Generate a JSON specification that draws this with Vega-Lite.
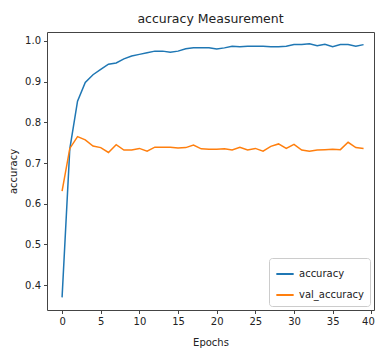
{
  "$schema": "https://vega.github.io/schema/vega-lite/v6.json",
  "width": 327,
  "height": 278,
  "autosize": {"type": "none"},
  "padding": {"left": 47, "top": 32, "right": 1, "bottom": 39},
  "background": "white",
  "title": {"text": "accuracy Measurement", "font": "DejaVu Sans", "fontSize": 12.5, "fontWeight": "normal", "color": "#222", "offset": 7, "anchor": "middle"},
  "config": {
    "view": {"stroke": "#444", "strokeWidth": 1},
    "axis": {"grid": false, "domain": false, "tickColor": "#444", "tickSize": 3.5, "labelFont": "DejaVu Sans", "labelFontSize": 10, "labelColor": "#222", "titleFont": "DejaVu Sans", "titleFontSize": 10, "titleFontWeight": "normal", "titleColor": "#222", "labelPadding": 3}
  },
  "data": {"values": [
    {"epoch": 0, "series": "accuracy", "value": 0.370},
    {"epoch": 1, "series": "accuracy", "value": 0.735},
    {"epoch": 2, "series": "accuracy", "value": 0.852},
    {"epoch": 3, "series": "accuracy", "value": 0.898},
    {"epoch": 4, "series": "accuracy", "value": 0.917},
    {"epoch": 5, "series": "accuracy", "value": 0.930},
    {"epoch": 6, "series": "accuracy", "value": 0.943},
    {"epoch": 7, "series": "accuracy", "value": 0.946},
    {"epoch": 8, "series": "accuracy", "value": 0.956},
    {"epoch": 9, "series": "accuracy", "value": 0.963},
    {"epoch": 10, "series": "accuracy", "value": 0.967},
    {"epoch": 11, "series": "accuracy", "value": 0.971},
    {"epoch": 12, "series": "accuracy", "value": 0.975},
    {"epoch": 13, "series": "accuracy", "value": 0.975},
    {"epoch": 14, "series": "accuracy", "value": 0.972},
    {"epoch": 15, "series": "accuracy", "value": 0.975},
    {"epoch": 16, "series": "accuracy", "value": 0.981},
    {"epoch": 17, "series": "accuracy", "value": 0.983},
    {"epoch": 18, "series": "accuracy", "value": 0.983},
    {"epoch": 19, "series": "accuracy", "value": 0.983},
    {"epoch": 20, "series": "accuracy", "value": 0.980},
    {"epoch": 21, "series": "accuracy", "value": 0.983},
    {"epoch": 22, "series": "accuracy", "value": 0.987},
    {"epoch": 23, "series": "accuracy", "value": 0.986},
    {"epoch": 24, "series": "accuracy", "value": 0.987},
    {"epoch": 25, "series": "accuracy", "value": 0.987},
    {"epoch": 26, "series": "accuracy", "value": 0.987},
    {"epoch": 27, "series": "accuracy", "value": 0.986},
    {"epoch": 28, "series": "accuracy", "value": 0.986},
    {"epoch": 29, "series": "accuracy", "value": 0.987},
    {"epoch": 30, "series": "accuracy", "value": 0.991},
    {"epoch": 31, "series": "accuracy", "value": 0.991},
    {"epoch": 32, "series": "accuracy", "value": 0.993},
    {"epoch": 33, "series": "accuracy", "value": 0.988},
    {"epoch": 34, "series": "accuracy", "value": 0.992},
    {"epoch": 35, "series": "accuracy", "value": 0.986},
    {"epoch": 36, "series": "accuracy", "value": 0.991},
    {"epoch": 37, "series": "accuracy", "value": 0.991},
    {"epoch": 38, "series": "accuracy", "value": 0.987},
    {"epoch": 39, "series": "accuracy", "value": 0.991},
    {"epoch": 0, "series": "val_accuracy", "value": 0.631},
    {"epoch": 1, "series": "val_accuracy", "value": 0.736},
    {"epoch": 2, "series": "val_accuracy", "value": 0.765},
    {"epoch": 3, "series": "val_accuracy", "value": 0.757},
    {"epoch": 4, "series": "val_accuracy", "value": 0.742},
    {"epoch": 5, "series": "val_accuracy", "value": 0.738},
    {"epoch": 6, "series": "val_accuracy", "value": 0.726},
    {"epoch": 7, "series": "val_accuracy", "value": 0.745},
    {"epoch": 8, "series": "val_accuracy", "value": 0.732},
    {"epoch": 9, "series": "val_accuracy", "value": 0.732},
    {"epoch": 10, "series": "val_accuracy", "value": 0.736},
    {"epoch": 11, "series": "val_accuracy", "value": 0.729},
    {"epoch": 12, "series": "val_accuracy", "value": 0.739},
    {"epoch": 13, "series": "val_accuracy", "value": 0.739},
    {"epoch": 14, "series": "val_accuracy", "value": 0.739},
    {"epoch": 15, "series": "val_accuracy", "value": 0.737},
    {"epoch": 16, "series": "val_accuracy", "value": 0.738},
    {"epoch": 17, "series": "val_accuracy", "value": 0.744},
    {"epoch": 18, "series": "val_accuracy", "value": 0.735},
    {"epoch": 19, "series": "val_accuracy", "value": 0.734},
    {"epoch": 20, "series": "val_accuracy", "value": 0.734},
    {"epoch": 21, "series": "val_accuracy", "value": 0.735},
    {"epoch": 22, "series": "val_accuracy", "value": 0.732},
    {"epoch": 23, "series": "val_accuracy", "value": 0.739},
    {"epoch": 24, "series": "val_accuracy", "value": 0.732},
    {"epoch": 25, "series": "val_accuracy", "value": 0.736},
    {"epoch": 26, "series": "val_accuracy", "value": 0.729},
    {"epoch": 27, "series": "val_accuracy", "value": 0.741},
    {"epoch": 28, "series": "val_accuracy", "value": 0.747},
    {"epoch": 29, "series": "val_accuracy", "value": 0.736},
    {"epoch": 30, "series": "val_accuracy", "value": 0.746},
    {"epoch": 31, "series": "val_accuracy", "value": 0.732},
    {"epoch": 32, "series": "val_accuracy", "value": 0.729},
    {"epoch": 33, "series": "val_accuracy", "value": 0.732},
    {"epoch": 34, "series": "val_accuracy", "value": 0.733},
    {"epoch": 35, "series": "val_accuracy", "value": 0.734},
    {"epoch": 36, "series": "val_accuracy", "value": 0.733},
    {"epoch": 37, "series": "val_accuracy", "value": 0.751},
    {"epoch": 38, "series": "val_accuracy", "value": 0.738},
    {"epoch": 39, "series": "val_accuracy", "value": 0.736}
  ]},
  "mark": {"type": "line", "strokeWidth": 1.5, "clip": true},
  "encoding": {
    "x": {"field": "epoch", "type": "quantitative", "scale": {"domain": [-1.95, 40.35], "nice": false, "zero": false},
      "axis": {"title": "Epochs", "values": [0, 5, 10, 15, 20, 25, 30, 35, 40], "labelFlush": false,
        "labelAlign": {"expr": "datum.value == 40 ? 'right' : 'center'"}, "labelOffset": {"expr": "datum.value == 40 ? 3 : 0"}, "titlePadding": 11}},
    "y": {"field": "value", "type": "quantitative", "scale": {"domain": [0.339, 1.022], "nice": false, "zero": false},
      "axis": {"title": "accuracy", "values": [0.4, 0.5, 0.6, 0.7, 0.8, 0.9, 1.0], "format": ".1f", "titlePadding": 6}},
    "color": {"field": "series", "type": "nominal",
      "scale": {"domain": ["accuracy", "val_accuracy"], "range": ["#1f77b4", "#ff7f0e"]},
      "legend": {"title": null, "orient": "bottom-right", "symbolType": "stroke", "symbolStrokeWidth": 2, "symbolSize": 300,
        "labelFont": "DejaVu Sans", "labelFontSize": 10, "labelColor": "#222", "strokeColor": "#ccc", "fillColor": "white",
        "padding": 6, "cornerRadius": 3, "rowPadding": 6, "offset": 4}}
  }
}
